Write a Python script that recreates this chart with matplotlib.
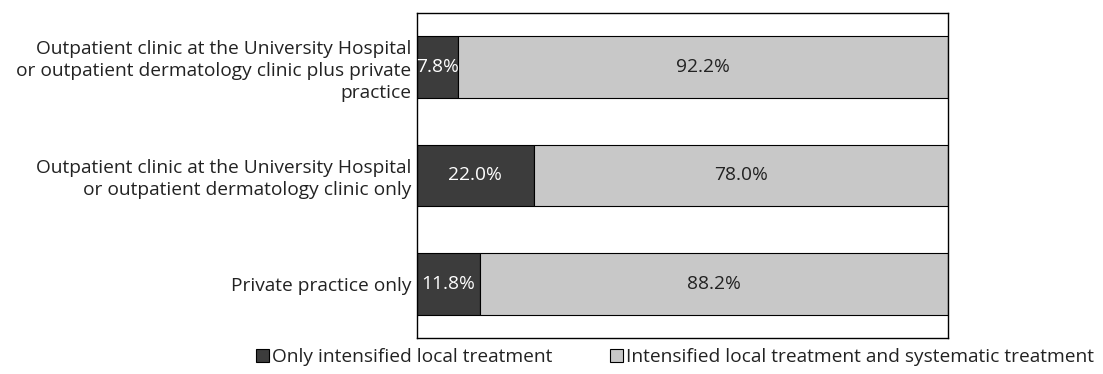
import matplotlib.pyplot as plt
import numpy as np
from matplotlib.patches import Patch

plt.rcParams['font.family'] = ['Open Sans', 'DejaVu Sans']

categories = [
    "Private practice only",
    "Outpatient clinic at the University Hospital\nor outpatient dermatology clinic only",
    "Outpatient clinic at the University Hospital\nor outpatient dermatology clinic plus private\npractice",
]
local_only = [11.8, 22.0, 7.8]
local_and_systemic = [88.2, 78.0, 92.2]
series_names = ["Only intensified local treatment",
                "Intensified local treatment and systematic treatment"]
dark = "#3c3c3c"
light = "#c8c8c8"
fs = 13.8

fig = plt.figure(figsize=(11.03, 3.74), dpi=100)
ax = fig.add_axes([417 / 1103, 1 - 338 / 374, 531 / 1103, 325 / 374])

y = np.arange(len(categories))
h = 0.57
ax.barh(y, local_only, height=h, color=dark, edgecolor="black", linewidth=0.8)
ax.barh(y, local_and_systemic, left=local_only, height=h, color=light,
        edgecolor="black", linewidth=0.8)

# value labels centred in each segment
for i in range(len(categories)):
    ax.text(local_only[i] / 2, y[i], f"{local_only[i]:.1f}%", color="white",
            ha="center", va="center", fontsize=fs)
    ax.text(local_only[i] + local_and_systemic[i] / 2, y[i],
            f"{local_and_systemic[i]:.1f}%", color="#222222",
            ha="center", va="center", fontsize=fs)

ax.set_xlim(0, 100)
ax.set_ylim(-0.5, 2.5)
ax.set_xticks([])
ax.set_yticks(y)
ax.set_yticklabels(categories, fontsize=fs, color="#222222",
                   linespacing=1.27)
ax.tick_params(axis="y", length=0, pad=4)
for s in ax.spines.values():
    s.set_linewidth(1.0)

handles = [Patch(facecolor=dark, edgecolor="black", linewidth=0.8),
           Patch(facecolor=light, edgecolor="black", linewidth=0.8)]
fig.legend(handles, series_names, loc="center", ncol=2,
           bbox_to_anchor=(675 / 1103, 1 - 357 / 374), frameon=False,
           fontsize=fs, handlelength=0.7, handleheight=0.7,
           handletextpad=0.15, columnspacing=3.0, labelcolor="#222222")

fig.savefig("out.png", dpi=100)
